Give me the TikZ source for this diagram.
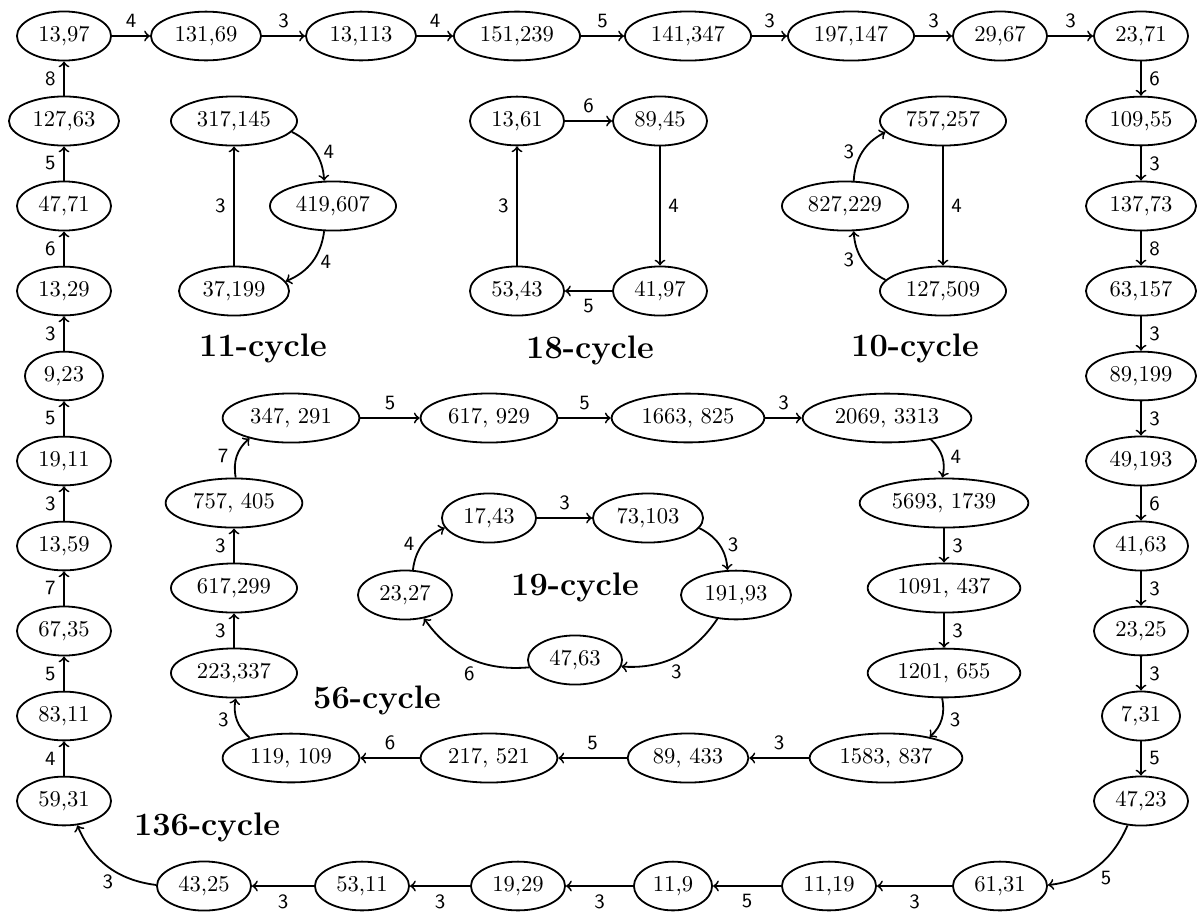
\documentclass[tikz,border=0pt]{standalone}
\usetikzlibrary{shapes.geometric}
\begin{document}
\begin{tikzpicture}[x=0.4425pt,y=-0.4425pt,
  st/.style={draw,ellipse,thick,minimum height=21.5pt},
  arr/.style={->,thick},
  lab/.style={font=\small\sffamily,auto},
  clab/.style={font=\small\sffamily},
  ttl/.style={font=\Large\bfseries}]
\useasboundingbox (0,0) rectangle (1198,912);
% ---------- 136-cycle ----------
\node[st] (t1) at (64,36) {13,97};
\node[st] (t2) at (206,36) {131,69};
\node[st] (t3) at (361,36) {13,113};
\node[st] (t4) at (517,36) {151,239};
\node[st] (t5) at (688,36) {141,347};
\node[st] (t6) at (851,36) {197,147};
\node[st] (t7) at (1000,36) {29,67};
\node[st] (t8) at (1141,36) {23,71};
\node[st] (r1) at (1141,121) {109,55};
\node[st] (r2) at (1141,206) {137,73};
\node[st] (r3) at (1141,291) {63,157};
\node[st] (r4) at (1141,376) {89,199};
\node[st] (r5) at (1141,461) {49,193};
\node[st] (r6) at (1141,546) {41,63};
\node[st] (r7) at (1141,631) {23,25};
\node[st] (r8) at (1141,716) {7,31};
\node[st] (r9) at (1141,801) {47,23};
\node[st] (b1) at (1000,886) {61,31};
\node[st] (b2) at (829,886) {11,19};
\node[st] (b3) at (673,886) {11,9};
\node[st] (b4) at (518,886) {19,29};
\node[st] (b5) at (362,886) {53,11};
\node[st] (b6) at (204,886) {43,25};
\node[st] (l9) at (64,801) {59,31};
\node[st] (l8) at (64,716) {83,11};
\node[st] (l7) at (64,631) {67,35};
\node[st] (l6) at (64,546) {13,59};
\node[st] (l5) at (64,461) {19,11};
\node[st] (l4) at (64,376) {9,23};
\node[st] (l3) at (64,291) {13,29};
\node[st] (l2) at (64,206) {47,71};
\node[st] (l1) at (64,121) {127,63};
\draw[arr] (t1) -- node[lab] {4} (t2);
\draw[arr] (t2) -- node[lab] {3} (t3);
\draw[arr] (t3) -- node[lab] {4} (t4);
\draw[arr] (t4) -- node[lab] {5} (t5);
\draw[arr] (t5) -- node[lab] {3} (t6);
\draw[arr] (t6) -- node[lab] {3} (t7);
\draw[arr] (t7) -- node[lab] {3} (t8);
\draw[arr] (t8) -- node[lab] {6} (r1);
\draw[arr] (r1) -- node[lab] {3} (r2);
\draw[arr] (r2) -- node[lab] {8} (r3);
\draw[arr] (r3) -- node[lab] {3} (r4);
\draw[arr] (r4) -- node[lab] {3} (r5);
\draw[arr] (r5) -- node[lab] {6} (r6);
\draw[arr] (r6) -- node[lab] {3} (r7);
\draw[arr] (r7) -- node[lab] {3} (r8);
\draw[arr] (r8) -- node[lab] {5} (r9);
\draw[arr] (r9) to[bend left] node[clab,below right,inner sep=1.5pt] {5} (b1);
\draw[arr] (b1) -- node[lab] {3} (b2);
\draw[arr] (b2) -- node[lab] {5} (b3);
\draw[arr] (b3) -- node[lab] {3} (b4);
\draw[arr] (b4) -- node[lab] {3} (b5);
\draw[arr] (b5) -- node[lab] {3} (b6);
\draw[arr] (b6) to[bend left] node[clab,below] {3} (l9);
\draw[arr] (l9) -- node[lab] {4} (l8);
\draw[arr] (l8) -- node[lab] {5} (l7);
\draw[arr] (l7) -- node[lab] {7} (l6);
\draw[arr] (l6) -- node[lab] {3} (l5);
\draw[arr] (l5) -- node[lab] {5} (l4);
\draw[arr] (l4) -- node[lab] {3} (l3);
\draw[arr] (l3) -- node[lab] {6} (l2);
\draw[arr] (l2) -- node[lab] {5} (l1);
\draw[arr] (l1) -- node[lab] {8} (t1);
\node[ttl] (T136) at (207,827) {136-cycle};
% ---------- 11-cycle ----------
\node[st] (c317) at (234,121) {317,145};
\node[st] (c419) at (333,206) {419,607};
\node[st] (c37) at (234,291) {37,199};
\draw[arr] (c317) to[bend left] node[clab,right] {4} (c419);
\draw[arr] (c419) to[bend left] node[clab,right] {4} (c37);
\draw[arr] (c37) -- node[lab] {3} (c317);
\node[ttl] (T11) at (263,348) {11-cycle};
% ---------- 18-cycle ----------
\node[st] (g13) at (517,121) {13,61};
\node[st] (g89) at (660,121) {89,45};
\node[st] (g41) at (660,291) {41,97};
\node[st] (g53) at (517,291) {53,43};
\draw[arr] (g13) -- node[lab] {6} (g89);
\draw[arr] (g89) -- node[lab] {4} (g41);
\draw[arr] (g41) -- node[lab] {5} (g53);
\draw[arr] (g53) -- node[lab] {3} (g13);
\node[ttl] (T18) at (590,350) {18-cycle};
% ---------- 10-cycle ----------
\node[st] (d757) at (943,121) {757,257};
\node[st] (d827) at (845,206) {827,229};
\node[st] (d127) at (943,291) {127,509};
\draw[arr] (d757) -- node[lab] {4} (d127);
\draw[arr] (d127) to[bend left] node[clab,left] {3} (d827);
\draw[arr] (d827) to[bend left] node[clab,left] {3} (d757);
\node[ttl] (T10) at (915,348) {10-cycle};
% ---------- 56-cycle ----------
\node[st] (e347) at (291,418) {347, 291};
\node[st] (e617) at (489,418) {617, 929};
\node[st] (e1663) at (688,418) {1663, 825};
\node[st] (e2069) at (887,418) {2069, 3313};
\node[st] (e5693) at (944,503) {5693, 1739};
\node[st] (e1091) at (944,588) {1091, 437};
\node[st] (e1201) at (944,673) {1201, 655};
\node[st] (e1583) at (886,758) {1583, 837};
\node[st] (e89) at (688,758) {89, 433};
\node[st] (e217) at (489,758) {217, 521};
\node[st] (e119) at (291,758) {119, 109};
\node[st] (e223) at (234,673) {223,337};
\node[st] (e617b) at (234,588) {617,299};
\node[st] (e757) at (234,503) {757, 405};
\draw[arr] (e347) -- node[lab] {5} (e617);
\draw[arr] (e617) -- node[lab] {5} (e1663);
\draw[arr] (e1663) -- node[lab] {3} (e2069);
\draw[arr] (e2069) to[bend left] node[clab,right] {4} (e5693);
\draw[arr] (e5693) -- node[lab] {3} (e1091);
\draw[arr] (e1091) -- node[lab] {3} (e1201);
\draw[arr] (e1201) to[bend left] node[clab,right] {3} (e1583);
\draw[arr] (e1583) -- node[lab,swap] {3} (e89);
\draw[arr] (e89) -- node[lab,swap] {5} (e217);
\draw[arr] (e217) -- node[lab,swap] {6} (e119);
\draw[arr] (e119) to[bend left] node[clab,left] {3} (e223);
\draw[arr] (e223) -- node[lab] {3} (e617b);
\draw[arr] (e617b) -- node[lab] {3} (e757);
\draw[arr] (e757) to[bend left] node[clab,left] {7} (e347);
\node[ttl] (T56) at (377,700) {56-cycle};
% ---------- 19-cycle ----------
\node[st] (f17) at (489,518) {17,43};
\node[st] (f73) at (648,518) {73,103};
\node[st] (f191) at (736,595) {191,93};
\node[st] (f47) at (575,660) {47,63};
\node[st] (f23) at (405,595) {23,27};
\draw[arr] (f17) -- node[lab] {3} (f73);
\draw[arr] (f73) to[bend left] node[clab,right] {3} (f191);
\draw[arr] (f191) to[bend left] node[clab,below] {3} (f47);
\draw[arr] (f47) to[bend left] node[clab,below] {6} (f23);
\draw[arr] (f23) to[bend left] node[clab,left] {4} (f17);
\node[ttl] (T19) at (575,587) {19-cycle};
\end{tikzpicture}
\end{document}
